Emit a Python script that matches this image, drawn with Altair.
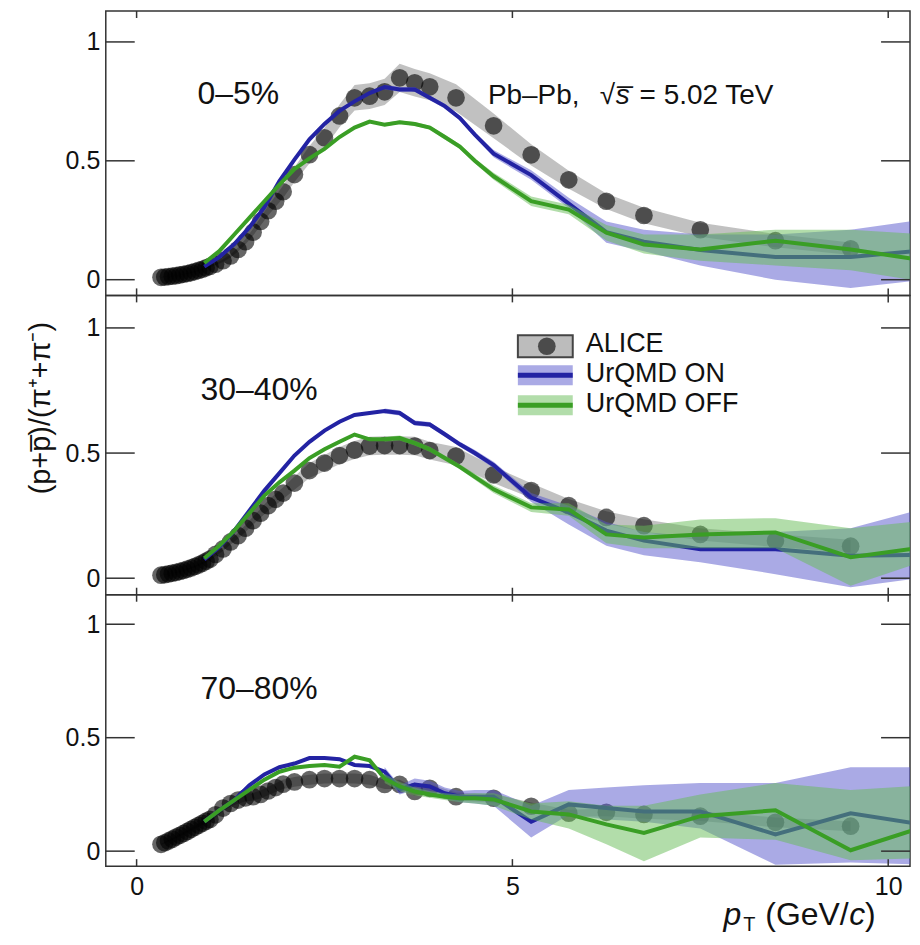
import altair as alt
import pandas as pd

FONT = "Liberation Sans"
X_DOMAIN = [-0.41, 10.29]
Y_DOMAIN = [-0.066, 1.13]
WIDTH = 806
HEIGHTS = [285, 300, 272]

CENTRALITY = ["0–5%", "30–40%", "70–80%"]
SYSTEM_LABEL = ["Pb–Pb,", "√", "s\u0305", "= 5.02 TeV"]
LEGEND_LABELS = ["ALICE", "UrQMD ON", "UrQMD OFF"]
Y_TITLE = "(p+p\u0305)/(π\u207a+π\u207b)"
X_TITLE = ["p", "T", "(GeV/", "c", ")"]
Y_TICKS = [0, 0.5, 1]
X_TICKS = [0, 5, 10]

# ALICE data points
ALICE_PT = [0.325, 0.375, 0.425, 0.475, 0.525, 0.575, 0.625, 0.675, 0.725, 0.775,
            0.825, 0.875, 0.925, 0.975, 1.05, 1.15, 1.25, 1.35, 1.45, 1.55,
            1.65, 1.75, 1.85, 1.95, 2.1, 2.3, 2.5, 2.7, 2.9, 3.1,
            3.3, 3.5, 3.7, 3.9, 4.25, 4.75, 5.25, 5.75, 6.25, 6.75,
            7.5, 8.5, 9.5]
ALICE_0_5 = [0.010, 0.011, 0.013, 0.015, 0.017, 0.020, 0.023, 0.026, 0.030, 0.034,
             0.039, 0.044, 0.050, 0.056, 0.065, 0.080, 0.100, 0.127, 0.160, 0.200,
             0.245, 0.290, 0.330, 0.370, 0.442, 0.526, 0.597, 0.689, 0.765, 0.772,
             0.790, 0.849, 0.828, 0.811, 0.765, 0.647, 0.525, 0.420, 0.330, 0.270,
             0.210, 0.164, 0.130]
ALICE_30_40 = [0.012, 0.014, 0.017, 0.020, 0.023, 0.027, 0.031, 0.036, 0.041, 0.047,
               0.053, 0.060, 0.068, 0.076, 0.095, 0.117, 0.145, 0.170, 0.200, 0.230,
               0.260, 0.290, 0.315, 0.340, 0.380, 0.430, 0.460, 0.490, 0.512, 0.528,
               0.530, 0.530, 0.528, 0.510, 0.488, 0.413, 0.350, 0.290, 0.243, 0.210,
               0.175, 0.150, 0.128]
ALICE_70_80 = [0.030, 0.037, 0.045, 0.053, 0.062, 0.070, 0.078, 0.087, 0.096, 0.105,
               0.114, 0.123, 0.132, 0.140, 0.160, 0.190, 0.210, 0.225, 0.235, 0.240,
               0.250, 0.265, 0.280, 0.295, 0.305, 0.315, 0.320, 0.320, 0.320, 0.315,
               0.294, 0.294, 0.263, 0.277, 0.240, 0.233, 0.198, 0.167, 0.171, 0.162,
               0.154, 0.127, 0.110]
ALICE_REL_SYS = [0.09, 0.085, 0.08, 0.08, 0.075, 0.075, 0.07, 0.07, 0.07, 0.07,
                 0.07, 0.07, 0.07, 0.07, 0.07, 0.07, 0.07, 0.07, 0.07, 0.07,
                 0.07, 0.07, 0.07, 0.07, 0.07, 0.07, 0.07, 0.07, 0.07, 0.07,
                 0.07, 0.07, 0.07, 0.07, 0.075, 0.08, 0.085, 0.09, 0.10, 0.12,
                 0.14, 0.17, 0.20]

# UrQMD model curves
MODEL_PT = [0.9, 1.1, 1.3, 1.5, 1.7, 1.9, 2.1, 2.3, 2.5, 2.7, 2.9, 3.1, 3.3, 3.5,
            3.7, 3.9, 4.1, 4.3, 4.5, 4.75, 5.25, 5.75, 6.25, 6.75, 7.5, 8.5, 9.5, 10.5]
ON_0_5 = [0.055, 0.095, 0.15, 0.22, 0.305, 0.415, 0.505, 0.59, 0.655, 0.71, 0.75, 0.785, 0.81, 0.80,
          0.80, 0.765, 0.73, 0.68, 0.61, 0.53, 0.44, 0.32, 0.20, 0.16, 0.125, 0.095, 0.095, 0.125]
OFF_0_5 = [0.07, 0.12, 0.19, 0.26, 0.33, 0.40, 0.465, 0.51, 0.55, 0.60, 0.64, 0.665, 0.652, 0.662,
           0.655, 0.64, 0.60, 0.56, 0.50, 0.435, 0.33, 0.295, 0.198, 0.148, 0.127, 0.164, 0.127, 0.08]
ON_30_40 = [0.075, 0.125, 0.19, 0.27, 0.35, 0.42, 0.49, 0.545, 0.59, 0.625, 0.652, 0.66, 0.668, 0.66,
            0.62, 0.614, 0.575, 0.535, 0.50, 0.452, 0.322, 0.263, 0.19, 0.15, 0.116, 0.116, 0.09, 0.093]
OFF_30_40 = [0.08, 0.13, 0.19, 0.26, 0.33, 0.383, 0.43, 0.48, 0.515, 0.545, 0.574, 0.555, 0.555, 0.56,
             0.54, 0.515, 0.48, 0.445, 0.405, 0.355, 0.283, 0.275, 0.175, 0.163, 0.175, 0.183, 0.084, 0.125]
ON_70_80 = [0.13, 0.18, 0.225, 0.29, 0.338, 0.37, 0.386, 0.41, 0.41, 0.405, 0.38, 0.375, 0.35, 0.272,
            0.294, 0.285, 0.255, 0.24, 0.24, 0.24, 0.13, 0.206, 0.19, 0.175, 0.175, 0.074, 0.167, 0.115]
OFF_70_80 = [0.13, 0.18, 0.225, 0.27, 0.315, 0.35, 0.368, 0.375, 0.38, 0.372, 0.416, 0.40, 0.32, 0.285,
             0.263, 0.25, 0.24, 0.233, 0.233, 0.228, 0.175, 0.162, 0.118, 0.08, 0.154, 0.18, 0.004, 0.11]

# UrQMD uncertainty bands
BAND_PT = [3.3, 3.5, 3.7, 3.9, 4.1, 4.3, 4.5, 4.75, 5.25, 5.75, 6.25, 6.75, 7.5, 8.5, 9.5, 10.5]
ON_LO_0_5 = [0.80, 0.79, 0.79, 0.755, 0.72, 0.67, 0.60, 0.515, 0.42, 0.30, 0.155, 0.12, 0.06, 0.0, -0.035, 0.0]
ON_HI_0_5 = [0.82, 0.81, 0.81, 0.775, 0.74, 0.69, 0.62, 0.545, 0.46, 0.345, 0.245, 0.21, 0.19, 0.19, 0.21, 0.255]
OFF_LO_0_5 = [0.645, 0.655, 0.647, 0.632, 0.59, 0.55, 0.49, 0.42, 0.31, 0.275, 0.165, 0.11, 0.08, 0.06, 0.04, -0.01]
OFF_HI_0_5 = [0.66, 0.67, 0.663, 0.648, 0.61, 0.57, 0.51, 0.45, 0.35, 0.315, 0.23, 0.19, 0.19, 0.21, 0.21, 0.19]
ON_LO_30_40 = [0.658, 0.65, 0.61, 0.604, 0.565, 0.525, 0.488, 0.44, 0.305, 0.215, 0.13, 0.092, 0.064, 0.016, -0.036, 0.004]
ON_HI_30_40 = [0.678, 0.67, 0.63, 0.624, 0.585, 0.545, 0.512, 0.465, 0.34, 0.29, 0.225, 0.185, 0.165, 0.185, 0.2, 0.28]
OFF_LO_30_40 = [0.545, 0.55, 0.53, 0.505, 0.47, 0.435, 0.393, 0.34, 0.265, 0.25, 0.14, 0.12, 0.12, 0.12, -0.03, 0.07]
OFF_HI_30_40 = [0.565, 0.57, 0.55, 0.525, 0.49, 0.455, 0.417, 0.37, 0.30, 0.30, 0.215, 0.21, 0.235, 0.24, 0.2, 0.23]
ON_LO_70_80 = [0.33, 0.25, 0.27, 0.26, 0.23, 0.215, 0.21, 0.2, 0.06, 0.16, 0.14, 0.13, 0.1, -0.06, -0.05, -0.06]
ON_HI_70_80 = [0.37, 0.29, 0.32, 0.31, 0.28, 0.265, 0.27, 0.27, 0.2, 0.27, 0.28, 0.29, 0.3, 0.3, 0.37, 0.37]
OFF_LO_70_80 = [0.30, 0.265, 0.245, 0.235, 0.225, 0.215, 0.21, 0.2, 0.14, 0.1, 0.03, -0.044, 0.06, 0.05, -0.04, -0.03]
OFF_HI_70_80 = [0.34, 0.305, 0.28, 0.265, 0.255, 0.25, 0.255, 0.255, 0.21, 0.22, 0.2, 0.2, 0.25, 0.3, 0.27, 0.29]

BLUE = "#2323a3"
GREEN = "#3a9e25"
BLUE_BAND = "#5555cc"
GREEN_BAND = "#66bb55"
GRAY_BAND = "#a0a0a0"
FRAME = "#333333"
TEXT = "#111111"

xs = alt.Scale(domain=X_DOMAIN, nice=False, zero=False)
ys = alt.Scale(domain=Y_DOMAIN, nice=False, zero=False)


def text_layer(label, x, y, size, italic=False, angle=0, align="left", baseline="alphabetic"):
    return alt.Chart(pd.DataFrame({"label": [label]})).mark_text(
        align=align, baseline=baseline, fontSize=size, font=FONT,
        fontStyle="italic" if italic else "normal", color=TEXT, angle=angle
    ).encode(x=alt.value(x), y=alt.value(y), text="label:N")


def panel(idx, alice, on, off, on_lo, on_hi, off_lo, off_hi):
    h = HEIGHTS[idx]
    show_x = idx == 2
    xaxis = alt.Axis(values=X_TICKS, format="d", ticks=False, tickSize=0, domain=False, grid=False,
                     labelFontSize=25, labelFont=FONT, labelColor=TEXT, labelPadding=8,
                     title=None) if show_x else None
    yaxis = alt.Axis(values=Y_TICKS, format="~g", ticks=False, tickSize=0, domain=False, grid=False,
                     labelFontSize=25, labelFont=FONT, labelColor=TEXT, labelPadding=6, title=None)
    X = alt.X("pt:Q", scale=xs, axis=xaxis)

    df_a = pd.DataFrame({
        "pt": ALICE_PT, "v": alice,
        "lo": [v * (1 - r) for v, r in zip(alice, ALICE_REL_SYS)],
        "hi": [v * (1 + r) for v, r in zip(alice, ALICE_REL_SYS)],
    })
    df_on = pd.DataFrame({"pt": MODEL_PT, "v": on})
    df_off = pd.DataFrame({"pt": MODEL_PT, "v": off})
    df_on_b = pd.DataFrame({"pt": BAND_PT, "lo": on_lo, "hi": on_hi})
    df_off_b = pd.DataFrame({"pt": BAND_PT, "lo": off_lo, "hi": off_hi})

    a_band = alt.Chart(df_a).mark_area(color=GRAY_BAND, opacity=0.65, clip=True).encode(
        x=X, y=alt.Y("lo:Q", scale=ys, axis=yaxis), y2="hi:Q")
    a_pts = alt.Chart(df_a).mark_circle(size=314, color="black", opacity=0.6).encode(
        x=X, y=alt.Y("v:Q", scale=ys, axis=yaxis))
    on_band = alt.Chart(df_on_b).mark_area(color=BLUE_BAND, opacity=0.5, clip=True).encode(
        x=X, y=alt.Y("lo:Q", scale=ys, axis=yaxis), y2="hi:Q")
    on_line = alt.Chart(df_on).mark_line(color=BLUE, strokeWidth=4, clip=True).encode(
        x=X, y=alt.Y("v:Q", scale=ys, axis=yaxis))
    off_band = alt.Chart(df_off_b).mark_area(color=GREEN_BAND, opacity=0.5, clip=True).encode(
        x=X, y=alt.Y("lo:Q", scale=ys, axis=yaxis), y2="hi:Q")
    off_line = alt.Chart(df_off).mark_line(color=GREEN, strokeWidth=4, clip=True).encode(
        x=X, y=alt.Y("v:Q", scale=ys, axis=yaxis))

    yt = pd.DataFrame({"t": Y_TICKS})
    xt = pd.DataFrame({"t": X_TICKS})
    tick_y_l = alt.Chart(yt).mark_rule(color=FRAME, strokeWidth=1.5).encode(
        y=alt.Y("t:Q", scale=ys, axis=yaxis), x=alt.value(0), x2=alt.value(29))
    tick_y_r = alt.Chart(yt).mark_rule(color=FRAME, strokeWidth=1.5).encode(
        y=alt.Y("t:Q", scale=ys, axis=yaxis), x=alt.value(WIDTH - 29), x2=alt.value(WIDTH))
    tick_x_t = alt.Chart(xt).mark_rule(color=FRAME, strokeWidth=1.5).encode(
        x=alt.X("t:Q", scale=xs, axis=xaxis), y=alt.value(0), y2=alt.value(7))
    tick_x_b = alt.Chart(xt).mark_rule(color=FRAME, strokeWidth=1.5).encode(
        x=alt.X("t:Q", scale=xs, axis=xaxis), y=alt.value(h - 7), y2=alt.value(h))

    layers = [a_band, a_pts, on_band, on_line, off_band, off_line,
              tick_y_l, tick_y_r, tick_x_t, tick_x_b]

    label_pos = [(92, 93), (95, 105), (95, 105)][idx]
    layers.append(text_layer(CENTRALITY[idx], label_pos[0], label_pos[1], 32))

    if idx == 0:
        layers.append(text_layer(SYSTEM_LABEL[0], 383, 93, 28))
        layers.append(text_layer(SYSTEM_LABEL[1], 495, 93, 28))
        layers.append(text_layer(SYSTEM_LABEL[2], 511, 93, 28, italic=True))
        layers.append(text_layer(SYSTEM_LABEL[3], 535, 93, 28))

    if idx == 1:
        # legend
        lx0, lx1 = 413, 468
        leg = pd.DataFrame({"label": LEGEND_LABELS})
        layers.append(alt.Chart(leg.iloc[[0]]).mark_rect(
            color=GRAY_BAND, fillOpacity=0.7, stroke="#444444", strokeWidth=2).encode(
            x=alt.value(lx0), x2=alt.value(lx1), y=alt.value(40), y2=alt.value(62)))
        layers.append(alt.Chart(leg.iloc[[0]]).mark_circle(size=314, color="black", opacity=0.6).encode(
            x=alt.value(442), y=alt.value(51)))
        layers.append(alt.Chart(leg.iloc[[1]]).mark_rect(color=BLUE_BAND, opacity=0.5).encode(
            x=alt.value(lx0), x2=alt.value(lx1), y=alt.value(70), y2=alt.value(90)))
        layers.append(alt.Chart(leg.iloc[[1]]).mark_rule(color=BLUE, strokeWidth=5).encode(
            x=alt.value(lx0), x2=alt.value(lx1), y=alt.value(80)))
        layers.append(alt.Chart(leg.iloc[[2]]).mark_rect(color=GREEN_BAND, opacity=0.5).encode(
            x=alt.value(lx0), x2=alt.value(lx1), y=alt.value(100), y2=alt.value(120)))
        layers.append(alt.Chart(leg.iloc[[2]]).mark_rule(color=GREEN, strokeWidth=5).encode(
            x=alt.value(lx0), x2=alt.value(lx1), y=alt.value(110)))
        for k, yy in enumerate([57, 87, 117]):
            layers.append(text_layer(LEGEND_LABELS[k], 481, yy, 27))
        # y title
        layers.append(text_layer(Y_TITLE, -65, 113, 29, angle=270, align="center", baseline="middle"))
        # spacer fixing the left margin
        layers.append(alt.Chart(leg.iloc[[0]]).mark_rule(color="white", opacity=0, strokeWidth=1).encode(
            x=alt.value(-96.5), x2=alt.value(-96), y=alt.value(1)))

    if idx == 2:
        layers.append(text_layer(X_TITLE[0], 619, 331, 32, italic=True))
        layers.append(text_layer(X_TITLE[1], 639, 337, 20))
        layers.append(text_layer(X_TITLE[2], 661, 331, 32))
        layers.append(text_layer(X_TITLE[3], 745, 331, 32, italic=True))
        layers.append(text_layer(X_TITLE[4], 761, 331, 32))

    return alt.layer(*layers).properties(width=WIDTH, height=h)


p1 = panel(0, ALICE_0_5, ON_0_5, OFF_0_5, ON_LO_0_5, ON_HI_0_5, OFF_LO_0_5, OFF_HI_0_5)
p2 = panel(1, ALICE_30_40, ON_30_40, OFF_30_40, ON_LO_30_40, ON_HI_30_40, OFF_LO_30_40, OFF_HI_30_40)
p3 = panel(2, ALICE_70_80, ON_70_80, OFF_70_80, ON_LO_70_80, ON_HI_70_80, OFF_LO_70_80, OFF_HI_70_80)

chart = alt.vconcat(p1, p2, p3, spacing=0, bounds="flush").properties(
    padding=0, background="white"
).configure_view(stroke=FRAME, strokeWidth=1.5)

chart.save("out.html", embed_options={"renderer": "svg", "actions": False})
